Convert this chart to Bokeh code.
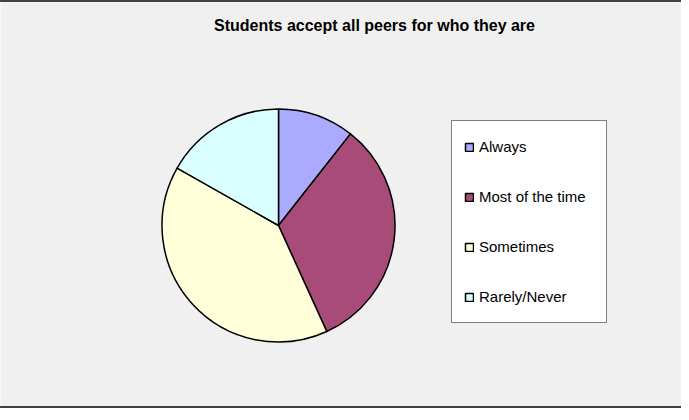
import math
from bokeh.plotting import figure
from bokeh.models import Range1d, Legend, LegendItem, Label, ColumnDataSource
from bokeh.embed import file_html
from bokeh.resources import INLINE

categories = ["Always", "Most of the time", "Sometimes", "Rarely/Never"]
values = [10.6, 32.6, 40.0, 16.8]
colors = ["#aaaafe", "#a94b78", "#ffffd9", "#d9ffff"]
title_text = "Students accept all peers for who they are"

W, H = 681, 408
p = figure(width=W, height=H, output_backend="svg", toolbar_location=None,
           x_range=Range1d(0, W), y_range=Range1d(0, H), min_border=0)
p.axis.visible = False
p.grid.visible = False
p.outline_line_color = None
p.background_fill_color = "#f0f0f0"
p.border_fill_color = "#f0f0f0"
p.styles = {"border-top": "2px solid #404040", "border-bottom": "2px solid #404040"}

total = sum(values)
starts, ends = [], []
cum = 0.0
for v in values:
    starts.append(math.pi / 2 - 2 * math.pi * cum / total)
    cum += v
    ends.append(math.pi / 2 - 2 * math.pi * cum / total)

cx, cy, r = 278, 185, 116.5
src = ColumnDataSource(dict(cat=categories, val=values, color=colors, start=starts, end=ends,
                            x=[cx] * len(values), y=[cy] * len(values)))
wr = p.wedge(x="x", y="y", radius=r, start_angle="start", end_angle="end", direction="clock",
             fill_color="color", line_color="black", line_width=1.5, source=src)

items = [LegendItem(label=c, renderers=[wr], index=i) for i, c in enumerate(categories)]
legend = Legend(items=items, location=(451, 87), margin=0, padding=12,
                spacing=23, glyph_width=10, glyph_height=10, label_height=27, label_width=115,
                label_standoff=5, label_text_font="Liberation Sans", label_text_font_size="15px",
                label_text_color="black", background_fill_color="white", background_fill_alpha=1,
                border_line_color="black", border_line_width=1)
p.add_layout(legend, "center")

p.add_layout(Label(x=374, y=H - 23, text=title_text, text_align="center", text_baseline="middle",
                   text_font="Liberation Sans", text_font_size="16px", text_font_style="bold",
                   text_color="black"))

open("out.html", "w").write(file_html(p, INLINE))
